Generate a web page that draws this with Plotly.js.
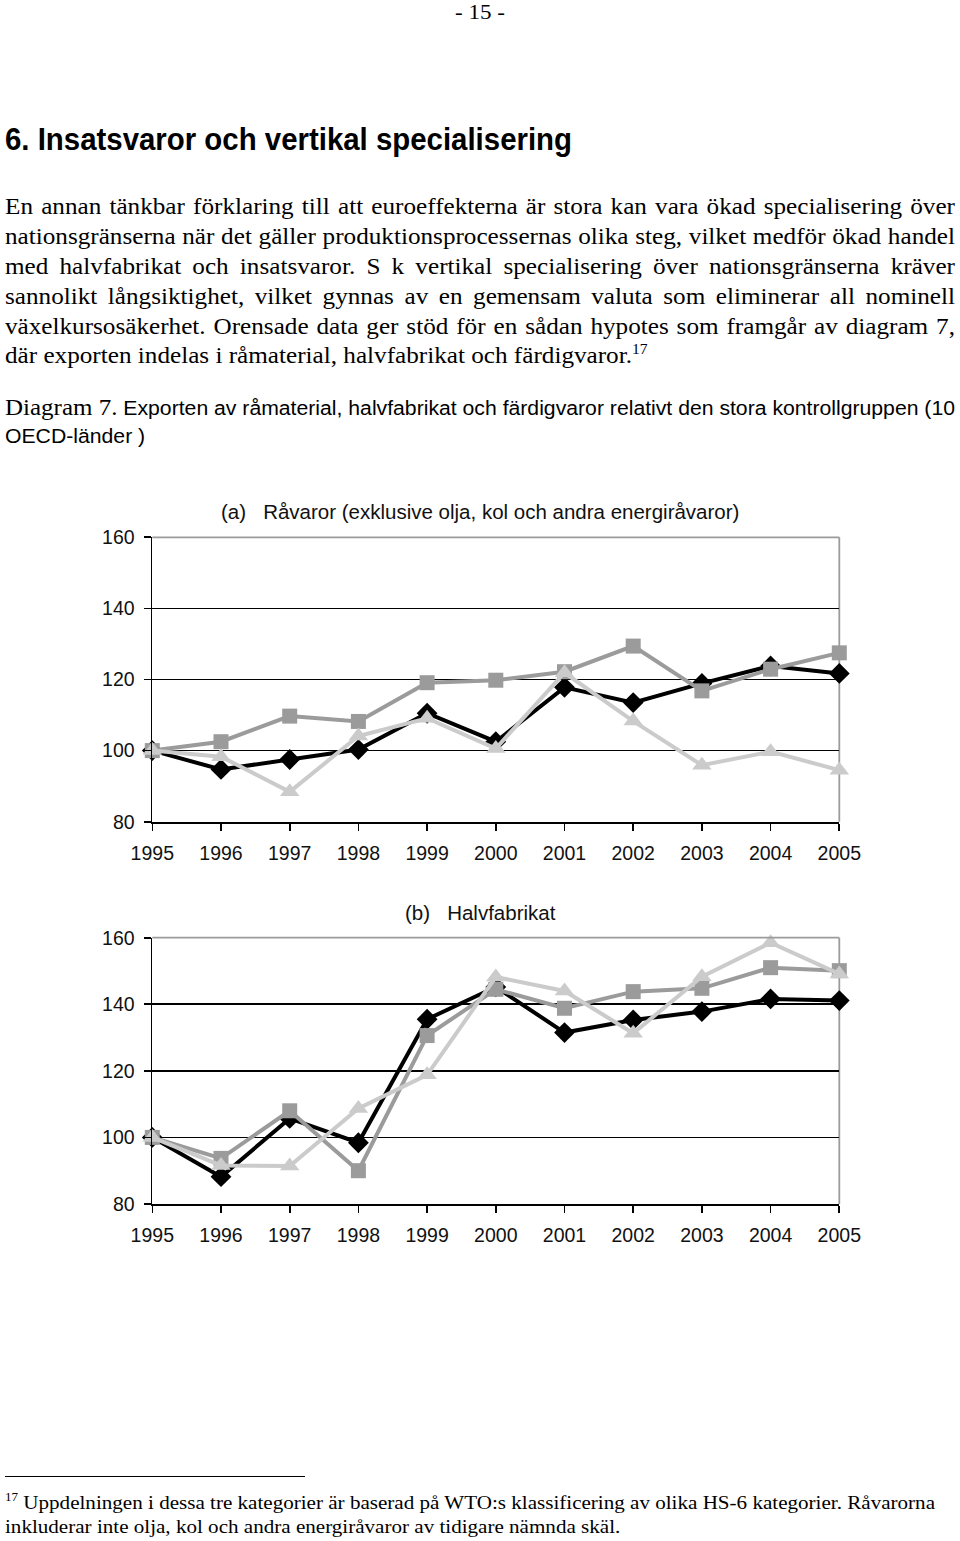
<!DOCTYPE html>
<html>
<head>
<meta charset="utf-8">
<script src="https://cdn.plot.ly/plotly-3.0.1.min.js"></script>
<style>
  html, body { margin:0; padding:0; background:#fff; }
  #page { position:relative; width:960px; height:1541px; overflow:hidden; background:#fff; }
  #plot { position:absolute; left:0; top:0; width:960px; height:1541px; }
  .ln { position:absolute; white-space:nowrap; color:#000; transform-origin:0 0; z-index:5; }
  .serif { font-family:"Liberation Serif","Times New Roman",serif; }
  .sans { font-family:"Liberation Sans",Arial,sans-serif; }
  sup { font-size:0.62em; vertical-align:0; position:relative; top:-0.6em; line-height:0; }
</style>
</head>
<body>
<div id="page">
  <div id="plot"></div>
</div>
<script>
// ---------------- DATA ----------------
const years = [1995, 1996, 1997, 1998, 1999, 2000, 2001, 2002, 2003, 2004, 2005];
const yearLabels = ["1995","1996","1997","1998","1999","2000","2001","2002","2003","2004","2005"];
const yTicks = [80, 100, 120, 140, 160];

// (a) Råvaror
const rawBlack = [100, 94.7, 97.5, 100.3, 110.5, 102.5, 117.8, 113.5, 118.9, 123.8, 121.7];
const rawGray  = [100, 102.5, 109.7, 108.2, 119.1, 119.8, 122.2, 129.4, 116.8, 122.9, 127.5];
const rawLight = [100, 98.3, 88.4, 104.1, 109.1, 100.6, 121.9, 108.3, 95.9, 99.7, 94.5];

// (b) Halvfabrikat
const semiBlack = [100, 88.2, 105.7, 98.4, 135.5, 145.2, 131.5, 135.3, 137.8, 141.6, 141.1];
const semiGray  = [100, 93.7, 108.0, 90.0, 130.6, 144.5, 138.8, 143.8, 144.8, 151.0, 150.1];
const semiLight = [100, 91.6, 91.4, 108.7, 118.8, 148.2, 144.0, 131.3, 148.3, 158.5, 149.1];

const titleA = "(a)\u00a0\u00a0\u00a0Råvaror (exklusive olja, kol och andra energiråvaror)";
const titleB = "(b)\u00a0\u00a0\u00a0Halvfabrikat";

// ---------------- TEXT ----------------
const pageNo = "- 15 -";
const heading = "6. Insatsvaror och vertikal specialisering";
const bodyLines = [
  "En annan tänkbar förklaring till att euroeffekterna är stora kan vara ökad specialisering över",
  "nationsgränserna när det gäller produktionsprocessernas olika steg, vilket medför ökad handel",
  "med halvfabrikat och insatsvaror. S k vertikal specialisering över nationsgränserna kräver",
  "sannolikt långsiktighet, vilket gynnas av en gemensam valuta som eliminerar all nominell",
  "växelkursosäkerhet. Orensade data ger stöd för en sådan hypotes som framgår av diagram 7,",
  "där exporten indelas i råmaterial, halvfabrikat och färdigvaror."
];
const diagLabel = "Diagram 7.";
const diagLine1 = "Exporten av råmaterial, halvfabrikat och färdigvaror relativt den stora kontrollgruppen (10";
const diagLine2 = "OECD-länder )";
const footLine1 = "Uppdelningen i dessa tre kategorier är baserad på WTO:s klassificering av olika HS-6 kategorier. Råvarorna";
const footLine2 = "inkluderar inte olja, kol och andra energiråvaror av tidigare nämnda skäl.";
const footNo = "17";

// ---------------- TEXT LAYOUT HELPERS ----------------
const page = document.getElementById('page');
function esc(s){ return s.replace(/&/g,'&amp;').replace(/</g,'&lt;'); }
function makeLine(html, cls, fs, weight){
  const d = document.createElement('div');
  d.className = 'ln ' + cls;
  d.style.fontSize = fs + 'px';
  d.style.lineHeight = fs + 'px';
  if (weight) d.style.fontWeight = weight;
  d.innerHTML = html;
  page.appendChild(d);
  return d;
}
function place(d, left, baseline, fs, cls){
  const asc = cls.indexOf('serif') === 0 ? 0.8375 : 0.8465;
  d.style.left = left + 'px';
  d.style.top = (baseline - asc*fs) + 'px';
}
function fitLine(html, cls, fs, weight, left, baseline, targetW){
  const d = makeLine(html, cls, fs, weight);
  const w = d.getBoundingClientRect().width;
  const s = targetW / w;
  d.style.transform = 'scaleX(' + s + ')';
  place(d, left, baseline, fs, cls);
  return s;
}

// page number
fitLine(esc(pageNo), 'serif', 21, null, 455, 20, 50);
// heading
fitLine(esc(heading), 'sans', 32, 'bold', 5, 150, 567);

// body paragraph (justified)
const bodyFs = 24;
const probe = makeLine(esc(bodyLines[5]), 'serif', bodyFs, null);
const bodyScale = 627 / probe.getBoundingClientRect().width;
probe.remove();
bodyLines.forEach((t, i) => {
  const last = i === bodyLines.length - 1;
  const d = makeLine(esc(t) + (last ? '<sup>17</sup>' : ''), 'serif', bodyFs, null);
  d.style.whiteSpace = 'normal';
  d.style.width = (950 / bodyScale) + 'px';
  d.style.textAlign = last ? 'left' : 'justify';
  d.style.textAlignLast = last ? 'left' : 'justify';
  d.style.transform = 'scaleX(' + bodyScale + ')';
  place(d, 5, 214.5 + 29.8*i, bodyFs, 'serif');
});

// Diagram caption
const sDiag = fitLine('<span style="font-family:\'Liberation Serif\',\'Times New Roman\',serif;font-size:23px">' + esc(diagLabel) + '</span> ' + esc(diagLine1),
  'sans', 19.5, null, 5, 415, 950);
const d2 = makeLine(esc(diagLine2), 'sans', 19.5, null);
d2.style.transform = 'scaleX(' + sDiag + ')';
place(d2, 5, 444, 19.5, 'sans');

// footnote rule
const rule = document.createElement('div');
rule.style.cssText = 'position:absolute;left:5px;top:1476px;width:300px;height:1.3px;background:#000;z-index:5';
page.appendChild(rule);
// footnote
const sFoot = fitLine('<sup>' + footNo + '</sup> ' + esc(footLine1), 'serif', 19.5, null, 5, 1509, 930);
const f2 = makeLine(esc(footLine2), 'serif', 19.5, null);
f2.style.transform = 'scaleX(' + sFoot + ')';
place(f2, 5, 1533, 19.5, 'serif');

// ---------------- CHART ----------------
const W = 960, H = 1541;
const FONT = '"Liberation Sans", Arial, sans-serif';
const xDom = [152.3 / W, 839.3 / W];
const yDomA = [1 - 821.7 / H, 1 - 537.3 / H];
const yDomB = [1 - 1204 / H, 1 - 937.7 / H];

const styles = [
  {color:'#000000', symbol:'diamond', size:16},
  {color:'#9b9b9b', symbol:'square', size:15},
  {color:'#cbcbcb', symbol:'triangle-up', size:17}
];
function tr(y, st, xa, ya, name){
  return {
    x: years, y: y, xaxis: xa, yaxis: ya, name: name, type:'scatter', mode:'lines+markers',
    line:{color: st.color, width: 4},
    marker:{color: st.color, symbol: st.symbol, size: st.size, line:{width:0}},
    cliponaxis:false, showlegend:false, hoverinfo:'skip'
  };
}
const data = [
  tr(rawBlack, styles[0], 'x', 'y', 'Serie 1'),
  tr(rawGray, styles[1], 'x', 'y', 'Serie 2'),
  tr(rawLight, styles[2], 'x', 'y', 'Serie 3'),
  tr(semiBlack, styles[0], 'x2', 'y2', 'Serie 1'),
  tr(semiGray, styles[1], 'x2', 'y2', 'Serie 2'),
  tr(semiLight, styles[2], 'x2', 'y2', 'Serie 3')
];

function xax(anchor){
  return {
    domain: xDom, anchor: anchor, range:[1995, 2005], tickmode:'array', tickvals: years, ticktext: yearLabels,
    ticks:'outside', ticklen:7, tickwidth:1.6, tickcolor:'#000',
    showline:true, linecolor:'#000', linewidth:1.8, showgrid:false, zeroline:false,
    tickfont:{family:FONT, size:19.5, color:'#111'}, ticklabelstandoff:6, fixedrange:true
  };
}
function yax(dom, anchor){
  return {
    domain: dom, anchor: anchor, range:[80, 160], tickmode:'array', tickvals: yTicks,
    ticks:'outside', ticklen:7, tickwidth:1.6, tickcolor:'#000',
    showline:true, linecolor:'#000', linewidth:1.8,
    showgrid:true, gridcolor:'#000', gridwidth:1.7, zeroline:false,
    tickfont:{family:FONT, size:19.5, color:'#111'}, ticklabelstandoff:5, fixedrange:true
  };
}
function border(xr, yr){
  return [
    {type:'line', xref: xr + ' domain', yref: yr + ' domain', x0:0, x1:1, y0:1, y1:1, line:{color:'#9b9b9b', width:1.8}, layer:'above'},
    {type:'line', xref: xr + ' domain', yref: yr + ' domain', x0:1, x1:1, y0:0, y1:1, line:{color:'#9b9b9b', width:1.8}, layer:'below'}
  ];
}

const layout = {
  width: W, height: H,
  margin:{l:0, r:0, t:0, b:0, pad:0},
  paper_bgcolor:'rgba(0,0,0,0)', plot_bgcolor:'#fff',
  showlegend:false,
  xaxis: xax('y'), yaxis: yax(yDomA, 'x'),
  xaxis2: xax('y2'), yaxis2: yax(yDomB, 'x2'),
  shapes: border('x', 'y').concat(border('x2', 'y2')),
  annotations:[
    {text: titleA, xref:'paper', yref:'paper', x: 480 / W, y: 1 - 511 / H, xanchor:'center', yanchor:'middle',
     showarrow:false, font:{family:FONT, size:20.5, color:'#111'}},
    {text: titleB, xref:'paper', yref:'paper', x: 480 / W, y: 1 - 912 / H, xanchor:'center', yanchor:'middle',
     showarrow:false, font:{family:FONT, size:20.5, color:'#111'}}
  ]
};

Plotly.newPlot('plot', data, layout, {staticPlot:true, displayModeBar:false});
</script>
</body>
</html>
